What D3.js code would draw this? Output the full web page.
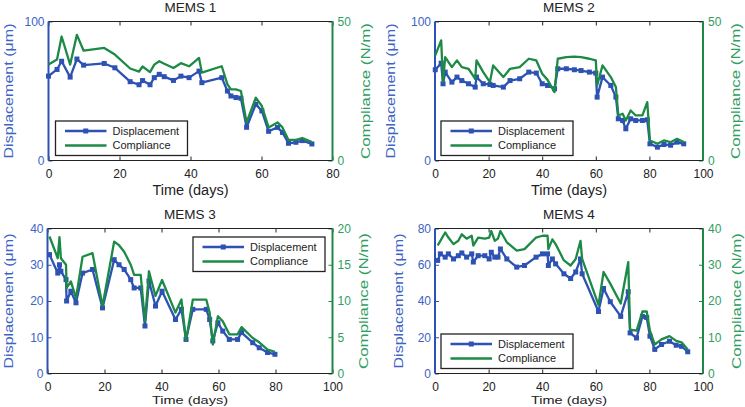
<!DOCTYPE html>
<html>
<head>
<meta charset="utf-8">
<script src="https://cdn.jsdelivr.net/npm/d3@7"></script>
<style>
  body { margin: 0; background: #fff; }
  svg text { font-family: "Liberation Sans", Arial, sans-serif; }
</style>
</head>
<body>
<svg id="chart" width="745" height="407"></svg>
<script>
// ---- data ----
const days1 = [0, 2.4, 3.7, 6.1, 8, 9.9, 15.7, 18.7, 23, 25.5, 26.5, 28.6, 29.8, 31.2, 32.6, 35.2, 37.3, 39.6, 42.4, 43.2, 48.8, 50.4, 51.4, 52.8, 54.2, 55.8, 58.4, 60.1, 62, 64.5, 65.9, 67.6, 69.7, 71.5, 74.2];
const disp1 = [60.7, 65.5, 71.4, 60, 73, 68.6, 69.8, 66.7, 56.7, 54.5, 57.5, 54.5, 59.6, 62, 60.3, 57.6, 60.7, 59.6, 64.3, 56, 59.6, 50, 46.4, 45.3, 44.8, 23.9, 40.5, 35.7, 21, 23.8, 20.2, 12.4, 13.1, 14.3, 11.9];
const comp1 = [34.5, 36.3, 44.6, 34.5, 45.2, 39.5, 40.5, 38.1, 33.1, 32, 33.8, 31.8, 34.5, 35.7, 34.8, 33.3, 35, 33.9, 36.9, 31.6, 33.9, 27.4, 25.6, 25.6, 25, 13.7, 22.6, 19.6, 11.9, 13.7, 11.9, 7.4, 7.4, 8.1, 6.6];

const days2 = [0.1, 2.3, 3, 3.8, 6.3, 8.2, 10, 12.5, 15, 15.5, 18, 20.5, 21.7, 25.5, 28, 31.6, 35, 37.8, 40, 42, 44.6, 45.8, 49, 52, 54.5, 57.6, 60, 60.5, 62.5, 65.6, 67.5, 68.4, 70, 71.2, 73, 74.9, 77.4, 79.2, 80.2, 83, 85.4, 87.9, 90.3, 92.8];
const disp2 = [65.3, 70, 55.2, 63.6, 56.4, 60, 57.5, 55.2, 52.8, 60, 55.2, 54.7, 54, 52.8, 57.5, 58.8, 63.6, 62.9, 55.2, 54, 51.6, 66, 66, 65.3, 64.7, 63.6, 62.9, 45.6, 60, 54, 45.6, 30, 28.8, 22.8, 30, 28.8, 28.8, 29.3, 12, 9.6, 11.5, 11, 13.2, 12];
const comp2 = [37.8, 43.2, 28.2, 37.2, 33.6, 36, 33.6, 33, 29.4, 36, 31.8, 28.2, 34.2, 30, 33, 33.6, 36.6, 36, 31.2, 29, 24.6, 36.6, 37.2, 37.4, 37.2, 36.6, 36, 27, 34.2, 30, 26.4, 16.2, 16.8, 14.4, 18, 16.2, 16.2, 21, 7.2, 6, 7.2, 6.6, 7.8, 6.6];

const days3 = [0.7, 3.6, 4.2, 4.7, 6.5, 6.7, 8.2, 10, 12.3, 15.8, 19.3, 23.4, 25.1, 26.9, 29.2, 30.4, 32.7, 34.2, 35.6, 37.9, 40.2, 44.9, 47, 48.6, 51, 55.7, 56.9, 58, 59.8, 61.5, 63.8, 66.7, 68.1, 72, 74.3, 77.2, 79.8];
const disp3 = [32.8, 27.7, 30, 28.2, 25.9, 20, 22.7, 19.5, 27.7, 28.7, 18.1, 31.4, 30, 28.7, 25.9, 23.6, 23.6, 13.1, 25.5, 18.6, 22.7, 14.9, 17.7, 9.4, 17.7, 17.7, 14.9, 9, 14, 11.7, 9.4, 9.4, 11.3, 8.5, 7.1, 5.8, 5.3];
const comp3 = [18.9, 15.9, 18.8, 15.9, 15, 11.8, 12.7, 10.4, 16.1, 16.6, 9.3, 18.2, 17.7, 16.8, 15, 13.6, 13.6, 7.2, 14.1, 10.7, 12.9, 8.4, 10.2, 4.5, 10.2, 10.2, 8.4, 4, 7.9, 7.2, 5.4, 5.4, 6.4, 4.9, 4.3, 3.3, 3];

const days4 = [1, 2, 3.8, 5, 6.9, 8.7, 10, 11.8, 13.7, 14.3, 16.1, 18.6, 20.2, 21, 22.3, 23.5, 24.4, 26.8, 30.5, 33.4, 37.7, 40.1, 42, 42.3, 43.8, 45, 48.1, 50.6, 52.5, 54.3, 54.9, 61, 62.9, 65.4, 69.3, 72.1, 72.8, 75.2, 77.4, 79, 80.2, 82, 84.5, 87.5, 90, 92, 94.3];
const disp4 = [62.4, 66, 64.2, 66, 63.2, 65, 66.5, 64.2, 66, 61.5, 65, 65, 63.2, 66.9, 64.2, 64.2, 68.7, 63.2, 58.7, 59.6, 64.2, 66, 66, 59.6, 63.2, 60.5, 55, 52.4, 56, 63.2, 55, 34.2, 46.9, 39.6, 31.5, 45.1, 22.4, 19.6, 31.5, 30.9, 20.6, 13.3, 16, 17.8, 15.6, 15, 12];
const comp4 = [35.3, 36.6, 38.9, 37.5, 35.7, 36.6, 38.4, 37.2, 38, 35.3, 37.5, 37.2, 37.5, 39.3, 36.6, 37.2, 39.3, 36.2, 33.9, 34.3, 37.5, 38, 38, 34.3, 37, 35.7, 31.2, 29.8, 31.6, 36.6, 31.6, 18.9, 28, 24.8, 19.3, 30.7, 12.1, 11.8, 17.1, 17.1, 11.8, 8, 9.4, 10.3, 9, 8.6, 6.6];

// tick labels
const xTicks80 = [0, 20, 40, 60, 80];
const xTicks100 = [0, 20, 40, 60, 80, 100];
const dispTicks1 = [0, 100], compTicks1 = [0, 50];
const dispTicks3 = [0, 10, 20, 30, 40], compTicks3 = [0, 5, 10, 15, 20];
const dispTicks4 = [0, 20, 40, 60, 80], compTicks4 = [0, 10, 20, 30, 40];

const titles = ["MEMS 1", "MEMS 2", "MEMS 3", "MEMS 4"];
const seriesNames = ["Displacement", "Compliance"];

// ---- styles ----
const BLUE = "#2d52b3";
const BLUE_TXT = "#3c63c6";
const GREEN = "#1c8a46";
const GREEN_TXT = "#2f9e63";
const DARK = "#222";
const TICK_FS = "12px";
const H = 407;

// ---- layout of the four panels ----
const panels = [
  {title: titles[0], days: days1, disp: disp1, comp: comp1, xTicks: xTicks80, dTicks: dispTicks1, cTicks: compTicks1,
   left: 48.5, right: 332.5, top: 21.5, bottom: 160.5, yLabL: 36, yLabR: 37.5, leg: [55.5, 121]},
  {title: titles[1], days: days2, disp: disp2, comp: comp2, xTicks: xTicks100, dTicks: dispTicks1, cTicks: compTicks1,
   left: 435, right: 703, top: 21.5, bottom: 160.5, yLabL: 40, yLabR: 37, leg: [441, 121]},
  {title: titles[2], days: days3, disp: disp3, comp: comp3, xTicks: xTicks100, dTicks: dispTicks3, cTicks: compTicks3,
   left: 47.5, right: 332.5, top: 228.5, bottom: 373.5, yLabL: 34.5, yLabR: 35, leg: [193, 237]},
  {title: titles[3], days: days4, disp: disp4, comp: comp4, xTicks: xTicks100, dTicks: dispTicks4, cTicks: compTicks4,
   left: 435, right: 703, top: 228.5, bottom: 373.5, yLabL: 32.5, yLabR: 38, leg: [441, 334]}
];

const svg = d3.select("#chart");

function drawPanel(p) {
  const g = svg.append("g");
  // lower row sits against the page edge, so its x label is squeezed a little
  const tight = p.bottom + 34 > H - 3.5;

  const x = d3.scaleLinear()
    .domain([0, d3.max(p.xTicks)])
    .range([p.left, p.right]);
  const yL = d3.scaleLinear()
    .domain([0, d3.max(p.dTicks)])
    .range([p.bottom, p.top]);
  const yR = d3.scaleLinear()
    .domain([0, d3.max(p.cTicks)])
    .range([p.bottom, p.top]);

  // bottom axis with inward ticks
  const xAx = g.append("g")
    .attr("transform", "translate(0," + p.bottom + ")")
    .call(d3.axisBottom(x).tickValues(p.xTicks).tickSizeInner(-4).tickSizeOuter(0).tickPadding(9));
  xAx.selectAll("text").attr("font-size", TICK_FS).attr("fill", DARK);
  xAx.selectAll("line").attr("stroke", DARK);

  // top ticks, no labels
  const xTop = g.append("g")
    .attr("transform", "translate(0," + p.top + ")")
    .call(d3.axisTop(x).tickValues(p.xTicks).tickSizeInner(-4).tickSizeOuter(0).tickFormat(""));
  xTop.selectAll("line").attr("stroke", DARK);

  // left axis (displacement)
  const lAx = g.append("g")
    .attr("transform", "translate(" + p.left + ",0)")
    .call(d3.axisLeft(yL).tickValues(p.dTicks).tickSizeInner(-4).tickSizeOuter(0).tickPadding(4));
  lAx.selectAll("text").attr("font-size", TICK_FS).attr("fill", BLUE_TXT);
  lAx.selectAll("line").attr("stroke", BLUE);

  // right axis (compliance)
  const rAx = g.append("g")
    .attr("transform", "translate(" + p.right + ",0)")
    .call(d3.axisRight(yR).tickValues(p.cTicks).tickSizeInner(-4).tickSizeOuter(0).tickPadding(5));
  rAx.selectAll("text").attr("font-size", TICK_FS).attr("fill", GREEN_TXT);
  rAx.selectAll("line").attr("stroke", GREEN);

  g.selectAll(".domain").remove();

  // frame
  g.append("line").attr("x1", p.left).attr("x2", p.right).attr("y1", p.top).attr("y2", p.top)
    .attr("stroke", DARK).attr("stroke-width", 1.2);
  g.append("line").attr("x1", p.left).attr("x2", p.right).attr("y1", p.bottom).attr("y2", p.bottom)
    .attr("stroke", DARK).attr("stroke-width", 1.2);
  g.append("line").attr("x1", p.left).attr("x2", p.left).attr("y1", p.top).attr("y2", p.bottom)
    .attr("stroke", BLUE).attr("stroke-width", 2);
  g.append("line").attr("x1", p.right).attr("x2", p.right).attr("y1", p.top).attr("y2", p.bottom)
    .attr("stroke", GREEN).attr("stroke-width", 2);

  // displacement line with square markers
  const dPts = p.days.map((d, i) => [d, p.disp[i]]);
  const cPts = p.days.map((d, i) => [d, p.comp[i]]);

  g.append("path")
    .datum(dPts)
    .attr("fill", "none")
    .attr("stroke", BLUE)
    .attr("stroke-width", 2.3)
    .attr("stroke-linejoin", "round")
    .attr("d", d3.line().x(d => x(d[0])).y(d => yL(d[1])));

  g.selectAll(".mk")
    .data(dPts)
    .enter().append("rect")
    .attr("class", "mk")
    .attr("x", d => x(d[0]) - 2.5)
    .attr("y", d => yL(d[1]) - 2.5)
    .attr("width", 5)
    .attr("height", 5)
    .attr("fill", BLUE);

  g.append("path")
    .datum(cPts)
    .attr("fill", "none")
    .attr("stroke", GREEN)
    .attr("stroke-width", 2.3)
    .attr("stroke-linejoin", "round")
    .attr("d", d3.line().x(d => x(d[0])).y(d => yR(d[1])));

  // title
  g.append("text")
    .attr("x", (p.left + p.right) / 2)
    .attr("y", p.top - 10)
    .attr("text-anchor", "middle")
    .attr("font-size", "13.5px")
    .attr("fill", DARK)
    .text(p.title);

  // x label
  g.append("text")
    .attr("x", (p.left + p.right) / 2)
    .attr("y", tight ? H - 2.6 : p.bottom + 34)
    .attr("text-anchor", "middle")
    .attr("font-size", tight ? "11.8px" : "14px")
    .attr("textLength", 76)
    .attr("lengthAdjust", "spacingAndGlyphs")
    .attr("fill", DARK)
    .text("Time (days)");

  // y labels
  const midY = (p.top + p.bottom) / 2;
  g.append("text")
    .attr("transform", "translate(" + (p.left - p.yLabL) + "," + midY + ") rotate(-90)")
    .attr("text-anchor", "middle")
    .attr("font-size", "13.5px")
    .attr("textLength", 135)
    .attr("lengthAdjust", "spacingAndGlyphs")
    .attr("fill", BLUE_TXT)
    .text("Displacement (\u03bcm)");
  g.append("text")
    .attr("transform", "translate(" + (p.right + p.yLabR) + "," + midY + ") rotate(-90)")
    .attr("text-anchor", "middle")
    .attr("font-size", "13.5px")
    .attr("textLength", 136)
    .attr("lengthAdjust", "spacingAndGlyphs")
    .attr("fill", GREEN_TXT)
    .text("Compliance (N/m)");

  // legend
  const lx = p.leg[0], ly = p.leg[1];
  const lg = g.append("g").attr("transform", "translate(" + lx + "," + ly + ")");
  lg.append("rect")
    .attr("width", 132).attr("height", 34.5)
    .attr("fill", "#fff").attr("stroke", DARK).attr("stroke-width", 1.3);
  lg.append("line").attr("x1", 9.5).attr("x2", 51).attr("y1", 10).attr("y2", 10)
    .attr("stroke", BLUE).attr("stroke-width", 2.3);
  lg.append("rect").attr("x", 30.25 - 2.5).attr("y", 7.5).attr("width", 5).attr("height", 5)
    .attr("fill", BLUE);
  lg.append("line").attr("x1", 9.5).attr("x2", 51).attr("y1", 24.5).attr("y2", 24.5)
    .attr("stroke", GREEN).attr("stroke-width", 2.3);
  lg.selectAll(".lt")
    .data(seriesNames)
    .enter().append("text")
    .attr("class", "lt")
    .attr("x", 57)
    .attr("y", (d, i) => 10 + i * 14.5)
    .attr("dy", "0.35em")
    .attr("font-size", "11px")
    .attr("fill", DARK)
    .text(d => d);
}

panels.forEach(drawPanel);
</script>
</body>
</html>
